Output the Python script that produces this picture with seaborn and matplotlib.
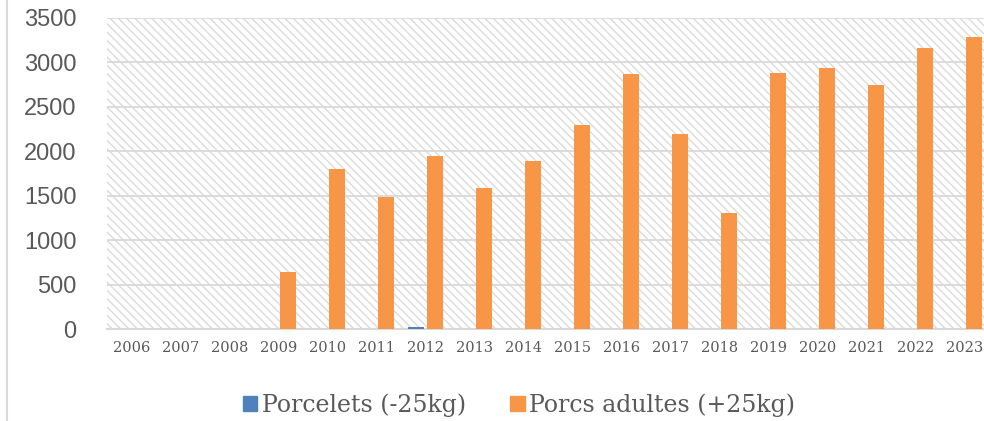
import pandas as pd
import seaborn as sns
import matplotlib.pyplot as plt
from matplotlib.patches import Rectangle
from matplotlib.lines import Line2D

# valeurs
annees = [str(a) for a in range(2006, 2024)]
porcelets = [0, 0, 0, 0, 0, 0, 25, 0, 0, 0, 0, 0, 0, 0, 0, 0, 0, 0]
porcs_adultes = [0, 0, 0, 640, 1800, 1490, 1950, 1590, 1890, 2300, 2870,
                 2190, 1310, 2880, 2940, 2750, 3160, 3290]
series = ["Porcelets (-25kg)", "Porcs adultes (+25kg)"]
couleurs = ["#4f81bd", "#f79646"]

df = pd.DataFrame({
    "annee": annees * 2,
    "valeur": porcelets + porcs_adultes,
    "serie": [series[0]] * len(annees) + [series[1]] * len(annees),
})

sns.set_style("white")
gris = "#d9d9d9"
texte = "#595959"

fig = plt.figure(figsize=(9.84, 4.21), dpi=100)
ax = fig.add_axes([107 / 984, 1 - 329 / 421, 882 / 984, 311 / 421])

# fond hachuré
plt.rcParams["hatch.linewidth"] = 1.0
fond = Rectangle((0, 0), 1, 1, transform=ax.transAxes, facecolor="white",
                 edgecolor="#dadada", hatch="\\\\\\\\", linewidth=0, zorder=0)
ax.add_patch(fond)

sns.barplot(data=df, x="annee", y="valeur", hue="serie", palette=couleurs,
            saturation=1, width=0.8, gap=0.18, ax=ax, zorder=3, linewidth=0)

ax.set_ylim(0, 3500)
ax.set_xlim(-0.5, len(annees) - 0.5)
ax.set_yticks(range(0, 3501, 500))
ax.yaxis.grid(True, color=gris, linewidth=1.3, zorder=1)
ax.set_axisbelow(True)
for s in ["top", "right", "left"]:
    ax.spines[s].set_visible(False)
ax.spines["bottom"].set_color(gris)
ax.spines["bottom"].set_linewidth(1.5)
ax.spines["bottom"].set_zorder(2)
ax.set_xlabel("")
ax.set_ylabel("")
ax.tick_params(axis="both", length=0)
ax.tick_params(axis="y", pad=22)
ax.tick_params(axis="x", pad=9)

for lab in ax.get_yticklabels():
    lab.set_fontfamily("Liberation Sans")
    lab.set_fontsize(17)
    lab.set_color(texte)
for lab in ax.get_xticklabels():
    lab.set_fontfamily("DejaVu Serif")
    lab.set_fontsize(10.5)
    lab.set_color(texte)

ax.legend_.remove()
poignees = [Rectangle((0, 0), 1, 1, color=c) for c in couleurs]
fig.legend(poignees, series, loc="center", bbox_to_anchor=(519 / 984, 1 - 405 / 421),
           ncol=2, frameon=False, handlelength=0.6, handleheight=0.6,
           handletextpad=0.2, columnspacing=1.9,
           prop={"family": "DejaVu Serif", "size": 17}, labelcolor=texte)

# bord gauche du cadre
fig.add_artist(Line2D([7 / 984, 7 / 984], [0, 1], color=gris, linewidth=1.5))

fig.savefig("out.png", dpi=100)
